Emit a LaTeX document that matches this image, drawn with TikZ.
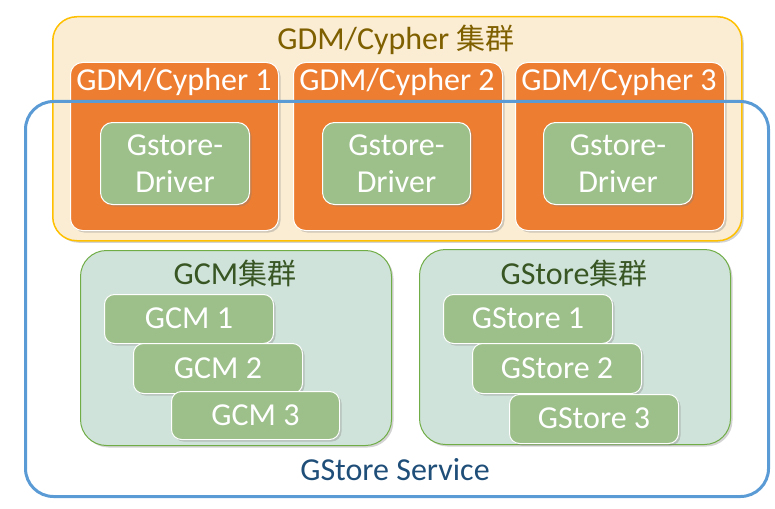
\documentclass[tikz,border=0pt]{standalone}
\usepackage{fontspec}
\setmainfont{Carlito}
\newfontfamily\cjk{Noto Sans CJK SC}
\usetikzlibrary{shadows}
\definecolor{cream}{HTML}{FBEDD4}
\definecolor{gold}{HTML}{FFC000}
\definecolor{goldtext}{HTML}{7F6000}
\definecolor{orng}{HTML}{ED7D31}
\definecolor{leaf}{HTML}{9DC08B}
\definecolor{mist}{HTML}{D0E3DA}
\definecolor{grass}{HTML}{70AD47}
\definecolor{forest}{HTML}{375623}
\definecolor{sky}{HTML}{5B9BD5}
\definecolor{navy}{HTML}{1F4E79}
\tikzset{
  x=1pt,y=-1pt,
  shd/.style={drop shadow={opacity=0.35,shadow xshift=2pt,shadow yshift=-2pt}},
  outerbox/.style={draw=gold,line width=1.5pt,fill=cream,rounded corners=24pt,anchor=north west,inner sep=0pt,shd},
  orangebox/.style={draw=white,line width=1pt,fill=orng,rounded corners=12pt,anchor=north west,inner sep=0pt,shd},
  drvbox/.style={draw=white,line width=1pt,fill=leaf,rounded corners=12pt,anchor=north west,inner sep=0pt,shd,
     text=white,font=\fontsize{32}{36}\selectfont,align=center},
  clusterbox/.style={draw=grass,line width=1pt,fill=mist,rounded corners=26pt,anchor=north west,inner sep=0pt,shd},
  itembox/.style={draw=white,line width=1pt,fill=leaf,rounded corners=10pt,anchor=north west,inner sep=0pt,shd,
     text=white,font=\fontsize{32}{36}\selectfont},
  svcbox/.style={draw=sky,line width=3pt,rounded corners=28pt,anchor=north west,inner sep=0pt},
  lbl/.style={inner sep=0pt,font=\fontsize{32}{36}\selectfont},
}
\begin{document}
\begin{tikzpicture}
\useasboundingbox (0,0) rectangle (775,508);
% outer yellow cluster
\node[outerbox,minimum width=689,minimum height=224] (gdm) at (52,16) {};
\node[lbl,text=goldtext] (gdmtitle) at (396,40) {GDM/Cypher {\cjk\fontsize{29}{34}\selectfont 集群}};
% orange boxes
\node[orangebox,minimum width=208,minimum height=168] (c1) at (70,62) {};
\node[orangebox,minimum width=209,minimum height=168] (c2) at (293,62) {};
\node[orangebox,minimum width=209,minimum height=168] (c3) at (515,62) {};
\node[lbl,text=white] (c1t) at (174,82) {GDM/Cypher 1};
\node[lbl,text=white] (c2t) at (397,82) {GDM/Cypher 2};
\node[lbl,text=white] (c3t) at (619,82) {GDM/Cypher 3};
% service box
\node[svcbox,minimum width=743,minimum height=395] (svc) at (24,100) {};
\node[lbl,text=navy] (svct) at (395,470) {GStore Service};
% drivers
\node[drvbox,minimum width=149,minimum height=82] (d1) at (100,122) {Gstore-\\[1pt]Driver};
\node[drvbox,minimum width=148,minimum height=82] (d2) at (322,122) {Gstore-\\[1pt]Driver};
\node[drvbox,minimum width=149,minimum height=82] (d3) at (543,122) {Gstore-\\[1pt]Driver};
% clusters
\node[clusterbox,minimum width=311,minimum height=195] (gcm) at (80,250) {};
\node[lbl,text=forest] (gcmt) at (235,273) {GCM{\cjk\fontsize{29}{34}\selectfont 集群}};
\node[clusterbox,minimum width=311,minimum height=195] (gst) at (419,249) {};
\node[lbl,text=forest] (gstt) at (574,273) {GStore{\cjk\fontsize{29}{34}\selectfont 集群}};
% GCM items
\node[itembox,minimum width=169,minimum height=49,text depth=1pt] (m1) at (104,294) {GCM 1};
\node[itembox,minimum width=169,minimum height=50,text depth=1pt] (m2) at (133,343) {GCM 2};
\node[itembox,minimum width=168,minimum height=48,text depth=1pt] (m3) at (171,391) {GCM 3};
% GStore items
\node[itembox,minimum width=169,minimum height=49,text depth=1pt] (s1) at (443,294) {GStore 1};
\node[itembox,minimum width=169,minimum height=50,text depth=1pt] (s2) at (472,343) {GStore 2};
\node[itembox,minimum width=169,minimum height=49,text depth=1pt] (s3) at (509,394) {GStore 3};
\end{tikzpicture}
\end{document}
